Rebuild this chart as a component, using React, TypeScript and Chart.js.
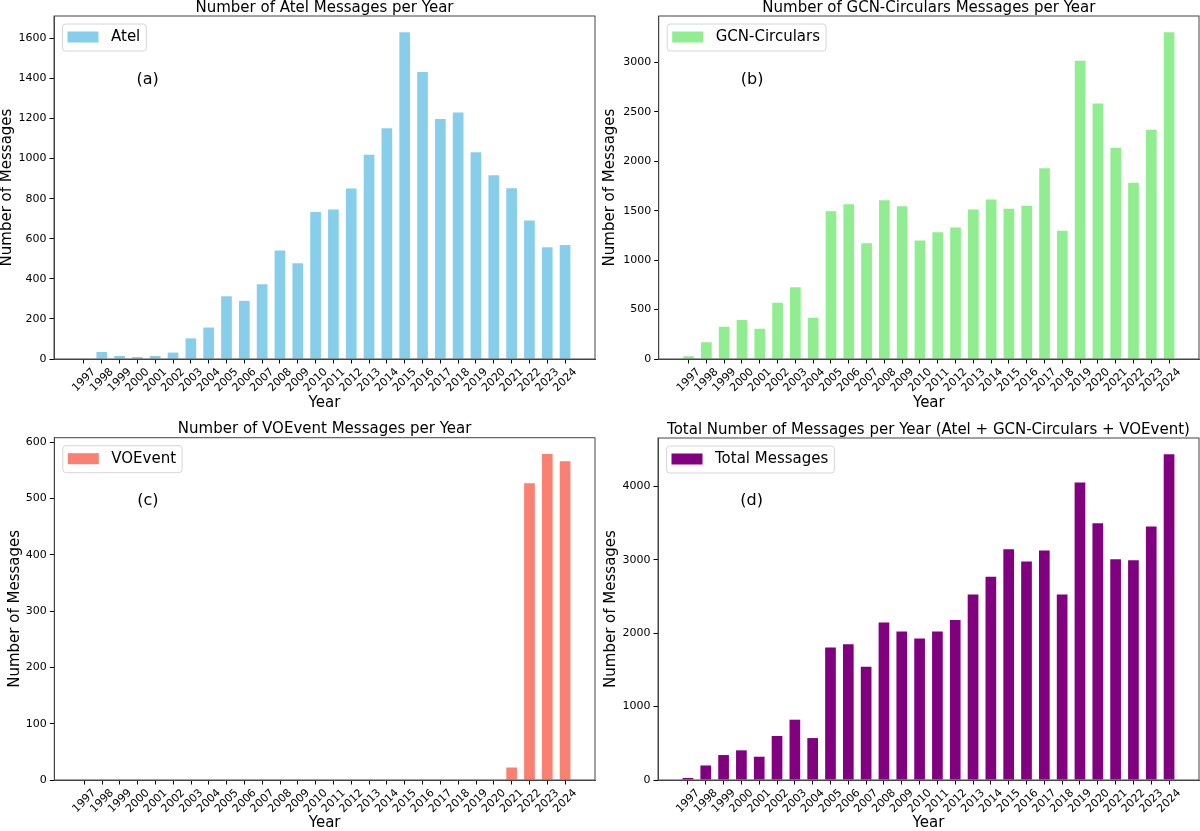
import React, { useEffect, useRef } from 'react';
import { Chart, registerables } from 'chart.js';

Chart.register(...registerables);

const YEARS = [
  '1997', '1998', '1999', '2000', '2001', '2002', '2003', '2004', '2005', '2006',
  '2007', '2008', '2009', '2010', '2011', '2012', '2013', '2014', '2015', '2016',
  '2017', '2018', '2019', '2020', '2021', '2022', '2023', '2024',
];

const ATEL = [3, 35, 15, 10, 15, 32, 103, 157, 313, 290, 373, 541, 478, 733, 746, 851, 1019, 1152, 1630, 1432, 1197, 1230, 1032, 917, 852, 691, 558, 569];
const GCN = [27, 169, 327, 395, 307, 570, 726, 418, 1495, 1566, 1171, 1606, 1546, 1198, 1282, 1330, 1512, 1613, 1519, 1549, 1930, 1296, 3017, 2585, 2136, 1782, 2318, 3304];
const VOEVENT = [0, 0, 0, 0, 0, 0, 0, 0, 0, 0, 0, 0, 0, 0, 0, 0, 0, 0, 0, 0, 0, 0, 0, 0, 22, 527, 579, 566];
const TOTAL = [28, 198, 340, 404, 317, 599, 821, 571, 1805, 1850, 1542, 2145, 2023, 1927, 2023, 2177, 2526, 2766, 3143, 2975, 3125, 2526, 4050, 3497, 3007, 2993, 3451, 4435];

const FONT = '"DejaVu Sans", "Liberation Sans", sans-serif';
Chart.defaults.font.family = FONT;
Chart.defaults.color = '#000';

type Spec = {
  key: string;
  title: string;
  label: string;
  tag: string;
  values: number[];
  color: string;
  step: number;
  box: { left: number; top: number; width: number; height: number };
  pad: { left: number; top: number; right: number; bottom: number };
  yWidth: number;
  xHeight: number;
  yTitlePad: number;
  xTitlePad: number;
};

const PANELS: Spec[] = [
  {
    key: 'a', title: 'Number of Atel Messages per Year', label: 'Atel', tag: '(a)',
    values: ATEL, color: '#87CEEB', step: 200,
    box: { left: 0, top: 0, width: 600, height: 415 },
    pad: { left: 0, top: 16, right: 5, bottom: 0 },
    yWidth: 54, xHeight: 56, yTitlePad: 0, xTitlePad: 4.5,
  },
  {
    key: 'b', title: 'Number of GCN-Circulars Messages per Year', label: 'GCN-Circulars', tag: '(b)',
    values: GCN, color: '#90EE90', step: 500,
    box: { left: 600, top: 0, width: 600, height: 415 },
    pad: { left: 0, top: 16, right: 1, bottom: 0 },
    yWidth: 58.7, xHeight: 56, yTitlePad: 3, xTitlePad: 4.5,
  },
  {
    key: 'c', title: 'Number of VOEvent Messages per Year', label: 'VOEvent', tag: '(c)',
    values: VOEVENT, color: '#FA8072', step: 100,
    box: { left: 0, top: 415, width: 600, height: 416 },
    pad: { left: 0, top: 22.7, right: 5, bottom: 0 },
    yWidth: 54.3, xHeight: 51, yTitlePad: 8, xTitlePad: 0,
  },
  {
    key: 'd', title: 'Total Number of Messages per Year (Atel + GCN-Circulars + VOEvent)', label: 'Total Messages', tag: '(d)',
    values: TOTAL, color: '#800080', step: 1000,
    box: { left: 600, top: 415, width: 600, height: 416 },
    pad: { left: 0, top: 23, right: 1, bottom: 0 },
    yWidth: 58, xHeight: 51, yTitlePad: 3.5, xTitlePad: 0,
  },
];

function decorPlugin(spec: Spec) {
  return {
    id: 'decor' + spec.key,
    afterDraw(chart: any) {
      const ctx: CanvasRenderingContext2D = chart.ctx;
      const a = chart.chartArea;
      const w = a.right - a.left;
      const h = a.bottom - a.top;
      ctx.save();
      // axes frame
      ctx.strokeStyle = '#444';
      ctx.lineWidth = 1;
      ctx.strokeRect(a.left, a.top, w, h);
      // title
      ctx.fillStyle = '#000';
      ctx.font = '15px ' + FONT;
      ctx.textAlign = 'center';
      ctx.textBaseline = 'alphabetic';
      ctx.fillText(spec.title, a.left + w / 2, a.top - 4.3);
      // legend
      const bx = a.left + 8.5;
      const by = a.top + 8;
      const bh = 27;
      ctx.font = '15px ' + FONT;
      const tw = ctx.measureText(spec.label).width;
      const bw = 5 + 31 + 12.5 + tw + 6;
      const r = 3;
      ctx.beginPath();
      ctx.moveTo(bx + r, by);
      ctx.lineTo(bx + bw - r, by);
      ctx.arcTo(bx + bw, by, bx + bw, by + r, r);
      ctx.lineTo(bx + bw, by + bh - r);
      ctx.arcTo(bx + bw, by + bh, bx + bw - r, by + bh, r);
      ctx.lineTo(bx + r, by + bh);
      ctx.arcTo(bx, by + bh, bx, by + bh - r, r);
      ctx.lineTo(bx, by + r);
      ctx.arcTo(bx, by, bx + r, by, r);
      ctx.closePath();
      ctx.fillStyle = 'rgba(255,255,255,0.8)';
      ctx.fill();
      ctx.strokeStyle = '#d6d6d6';
      ctx.stroke();
      ctx.fillStyle = spec.color;
      ctx.fillRect(bx + 5, by + 7.5, 31, 11);
      ctx.fillStyle = '#000';
      ctx.textAlign = 'left';
      ctx.textBaseline = 'middle';
      ctx.fillText(spec.label, bx + 48.5, by + bh / 2);
      // panel tag
      ctx.font = '16px ' + FONT;
      ctx.textAlign = 'center';
      ctx.fillText(spec.tag, a.left + 0.173 * w, a.bottom - 0.815 * h);
      ctx.restore();
    },
  };
}

function Panel({ spec }: { spec: Spec }) {
  const ref = useRef<HTMLCanvasElement>(null);
  useEffect(() => {
    const ymax = Math.max(...spec.values) * 1.05;
    const chart = new Chart(ref.current as HTMLCanvasElement, {
      type: 'bar',
      data: {
        datasets: [
          {
            label: spec.label,
            data: spec.values.map((v, i) => ({ x: i, y: v })) as any,
            backgroundColor: spec.color,
            borderWidth: 0,
            barPercentage: 0.6,
            categoryPercentage: 1,
          },
        ],
      },
      options: {
        animation: false,
        responsive: true,
        maintainAspectRatio: false,
        layout: { padding: spec.pad },
        plugins: {
          legend: { display: false },
          tooltip: { enabled: false },
          title: { display: false },
        },
        scales: {
          x: {
            type: 'linear',
            min: -1.68,
            max: YEARS.length - 1 + 1.68,
            offset: false,
            afterBuildTicks: (s: any) => {
              s.ticks = YEARS.map((_, i) => ({ value: i }));
            },
            afterFit: (s: any) => {
              s.height = spec.xHeight;
            },
            ticks: {
              autoSkip: false,
              minRotation: 45,
              maxRotation: 45,
              labelOffset: 10,
              padding: 2,
              font: { size: 11 },
              color: '#000',
              callback: (v: any) => YEARS[Math.round(Number(v))] ?? '',
            },
            grid: {
              display: true,
              offset: false,
              drawOnChartArea: false,
              drawTicks: true,
              tickLength: 4.5,
              color: '#000',
              lineWidth: 1,
            },
            border: { display: true, color: '#444', width: 1 },
            title: {
              display: true,
              text: 'Year',
              font: { size: 15, lineHeight: 1 },
              padding: { top: 0, bottom: spec.xTitlePad },
              color: '#000',
            },
          } as any,
          y: {
            type: 'linear',
            min: 0,
            max: ymax,
            afterBuildTicks: (s: any) => {
              const t: { value: number }[] = [];
              for (let v = 0; v <= ymax; v += spec.step) t.push({ value: v });
              s.ticks = t;
            },
            afterFit: (s: any) => {
              s.width = spec.yWidth;
            },
            ticks: {
              stepSize: spec.step,
              includeBounds: false,
              font: { size: 11 },
              color: '#000',
              padding: 3,
              callback: (v: any) => String(v),
            },
            grid: {
              display: true,
              drawOnChartArea: false,
              drawTicks: true,
              tickLength: 4.5,
              color: '#000',
              lineWidth: 1,
            },
            border: { display: true, color: '#444', width: 1 },
            title: {
              display: true,
              text: 'Number of Messages',
              font: { size: 15, lineHeight: 1 },
              padding: { top: spec.yTitlePad, bottom: 0 },
              color: '#000',
            },
          } as any,
        },
      },
      plugins: [decorPlugin(spec)],
    });
    return () => chart.destroy();
  }, [spec]);
  return (
    <div
      style={{
        position: 'absolute',
        left: spec.box.left,
        top: spec.box.top,
        width: spec.box.width,
        height: spec.box.height,
      }}
    >
      <canvas ref={ref} />
    </div>
  );
}

export default function App() {
  return (
    <div
      style={{
        position: 'absolute',
        left: 0,
        top: 0,
        width: 1200,
        height: 831,
        background: '#fff',
        overflow: 'hidden',
      }}
    >
      {PANELS.map((p) => (
        <Panel key={p.key} spec={p} />
      ))}
    </div>
  );
}
